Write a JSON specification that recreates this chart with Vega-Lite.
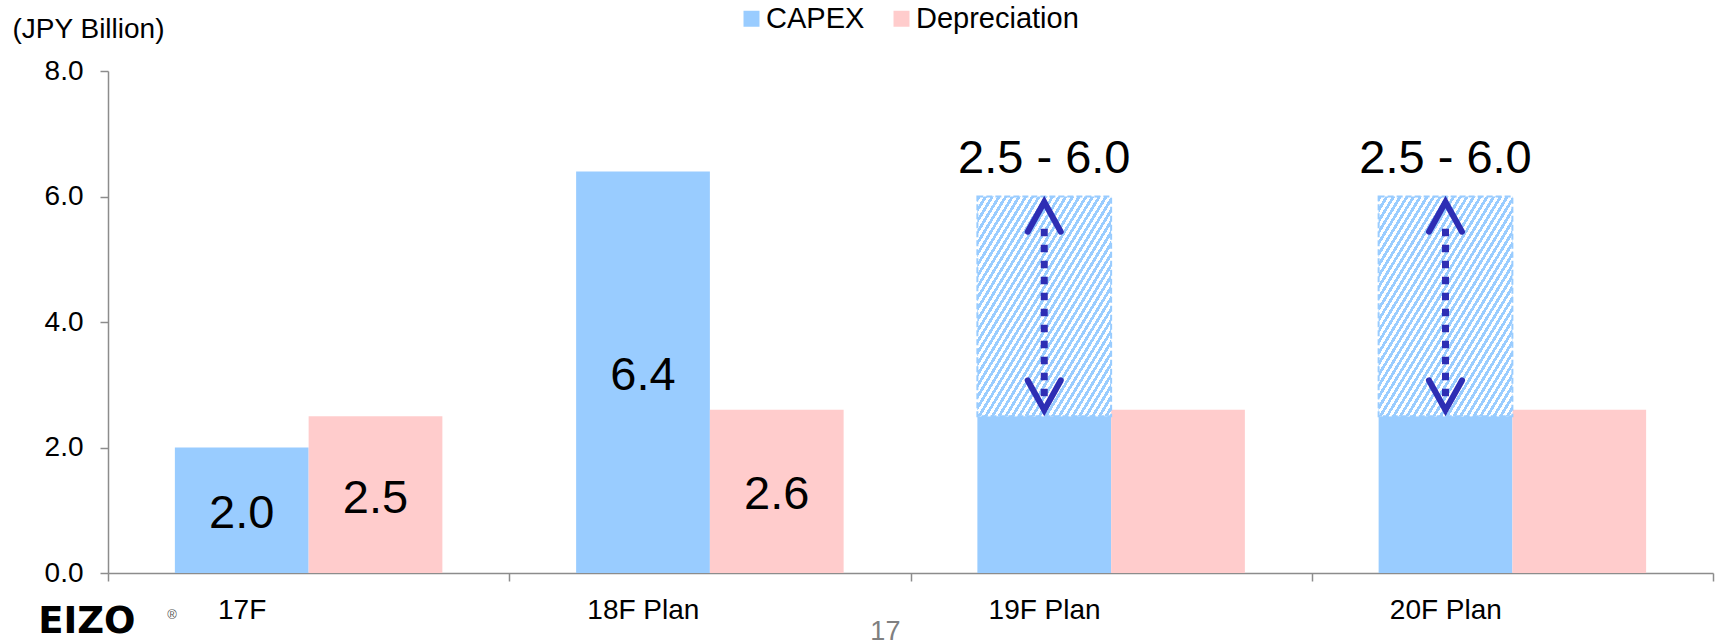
{
  "$schema": "https://vega.github.io/schema/vega-lite/v6.json",
  "width": 1605,
  "height": 502,
  "autosize": {"type": "none"},
  "padding": {"left": 108, "top": 71, "right": 12, "bottom": 68},
  "config": {"font": "Liberation Sans", "view": {"stroke": null}},
  "datasets": {
    "main": [
      {"cat": "17F", "series": "CAPEX", "value": 2.0},
      {"cat": "17F", "series": "Depreciation", "value": 2.5},
      {"cat": "18F Plan", "series": "CAPEX", "value": 6.4},
      {"cat": "18F Plan", "series": "Depreciation", "value": 2.6},
      {"cat": "19F Plan", "series": "CAPEX", "value": 2.5},
      {"cat": "19F Plan", "series": "Depreciation", "value": 2.6},
      {"cat": "20F Plan", "series": "CAPEX", "value": 2.5},
      {"cat": "20F Plan", "series": "Depreciation", "value": 2.6}
    ],
    "range": [
      {"cat": "19F Plan", "series": "CAPEX", "lo": 2.5, "hi": 6.0, "text": "2.5 - 6.0"},
      {"cat": "20F Plan", "series": "CAPEX", "lo": 2.5, "hi": 6.0, "text": "2.5 - 6.0"}
    ],
    "logo": [{"t": "EIZO"}],
    "reg": [{"t": "®"}],
    "page": [{"t": "17"}]
  },
  "resolve": {"scale": {"y": "independent"}},
  "layer": [
    {
      "data": {"name": "main"},
      "mark": {"type": "bar"},
      "encoding": {
        "x": {
          "field": "cat", "type": "nominal", "sort": null,
          "scale": {"domain": ["17F", "18F Plan", "19F Plan", "20F Plan"], "paddingInner": 0, "paddingOuter": 0},
          "axis": {
            "title": null, "tickBand": "extent", "labelOffset": -67, "labelFontSize": 28, "labelColor": "#000",
            "labelPadding": 15, "labelAngle": 0, "domainColor": "#8c8c8c", "domainWidth": 1.5,
            "tickColor": "#8c8c8c", "tickWidth": 1.5, "tickSize": 8, "grid": false
          }
        },
        "xOffset": {"field": "series", "type": "nominal", "scale": {"domain": ["CAPEX", "Depreciation"], "paddingInner": 0, "paddingOuter": 0.5}},
        "y": {
          "field": "value", "type": "quantitative",
          "scale": {"domain": [0, 8], "nice": false},
          "axis": {
            "title": "(JPY Billion)", "values": [0, 2, 4, 6, 8], "format": ".1f", "grid": false,
            "labelFontSize": 28, "labelColor": "#000", "labelPadding": 17, "tickSize": 8,
            "tickColor": "#8c8c8c", "tickWidth": 1.5, "domainColor": "#8c8c8c", "domainWidth": 1.5,
            "titleAngle": 0, "titleX": -96, "titleY": -34, "titleAlign": "left", "titleBaseline": "alphabetic",
            "titleFontSize": 28, "titleFontWeight": "normal", "titleColor": "#000"
          }
        },
        "color": {
          "field": "series", "type": "nominal",
          "scale": {"domain": ["CAPEX", "Depreciation"], "range": ["#99ccff", "#ffcccc"]},
          "legend": {
            "title": null, "orient": "none", "legendX": 629, "legendY": -67, "direction": "horizontal",
            "symbolType": "square", "symbolSize": 256, "symbolStrokeWidth": 0, "symbolOpacity": 1,
            "labelFontSize": 29, "labelColor": "#000", "labelOffset": 0, "labelLimit": 400, "columnPadding": 22, "padding": 0
          }
        }
      }
    },
    {
      "data": {"name": "main"},
      "transform": [{"filter": {"field": "cat", "oneOf": ["17F", "18F Plan"]}}],
      "mark": {"type": "text", "fontSize": 47, "baseline": "middle", "dy": 4, "color": "#000"},
      "encoding": {
        "x": {"field": "cat", "type": "nominal", "sort": null},
        "xOffset": {"field": "series", "type": "nominal"},
        "y": {"field": "value", "type": "quantitative", "scale": {"domain": [0, 16], "nice": false}, "axis": null},
        "text": {"field": "value", "type": "quantitative", "format": ".1f"}
      }
    },
    {
      "data": {"name": "range"},
      "mark": {
        "type": "bar", "stroke": "#99ccff", "strokeWidth": 2, "strokeDash": [6, 3],
        "fill": {
          "gradient": "linear", "x1": 0, "y1": 0, "x2": 1, "y2": 1,
          "stops": [
            {"offset": 0, "color": "#9cf"},
            {"offset": 0.0125, "color": "#9cf"}, {"offset": 0.0125, "color": "#fff"},
            {"offset": 0.025, "color": "#fff"}, {"offset": 0.025, "color": "#9cf"},
            {"offset": 0.0375, "color": "#9cf"}, {"offset": 0.0375, "color": "#fff"},
            {"offset": 0.05, "color": "#fff"}, {"offset": 0.05, "color": "#9cf"},
            {"offset": 0.0625, "color": "#9cf"}, {"offset": 0.0625, "color": "#fff"},
            {"offset": 0.075, "color": "#fff"}, {"offset": 0.075, "color": "#9cf"},
            {"offset": 0.0875, "color": "#9cf"}, {"offset": 0.0875, "color": "#fff"},
            {"offset": 0.1, "color": "#fff"}, {"offset": 0.1, "color": "#9cf"},
            {"offset": 0.1125, "color": "#9cf"}, {"offset": 0.1125, "color": "#fff"},
            {"offset": 0.125, "color": "#fff"}, {"offset": 0.125, "color": "#9cf"},
            {"offset": 0.1375, "color": "#9cf"}, {"offset": 0.1375, "color": "#fff"},
            {"offset": 0.15, "color": "#fff"}, {"offset": 0.15, "color": "#9cf"},
            {"offset": 0.1625, "color": "#9cf"}, {"offset": 0.1625, "color": "#fff"},
            {"offset": 0.175, "color": "#fff"}, {"offset": 0.175, "color": "#9cf"},
            {"offset": 0.1875, "color": "#9cf"}, {"offset": 0.1875, "color": "#fff"},
            {"offset": 0.2, "color": "#fff"}, {"offset": 0.2, "color": "#9cf"},
            {"offset": 0.2125, "color": "#9cf"}, {"offset": 0.2125, "color": "#fff"},
            {"offset": 0.225, "color": "#fff"}, {"offset": 0.225, "color": "#9cf"},
            {"offset": 0.2375, "color": "#9cf"}, {"offset": 0.2375, "color": "#fff"},
            {"offset": 0.25, "color": "#fff"}, {"offset": 0.25, "color": "#9cf"},
            {"offset": 0.2625, "color": "#9cf"}, {"offset": 0.2625, "color": "#fff"},
            {"offset": 0.275, "color": "#fff"}, {"offset": 0.275, "color": "#9cf"},
            {"offset": 0.2875, "color": "#9cf"}, {"offset": 0.2875, "color": "#fff"},
            {"offset": 0.3, "color": "#fff"}, {"offset": 0.3, "color": "#9cf"},
            {"offset": 0.3125, "color": "#9cf"}, {"offset": 0.3125, "color": "#fff"},
            {"offset": 0.325, "color": "#fff"}, {"offset": 0.325, "color": "#9cf"},
            {"offset": 0.3375, "color": "#9cf"}, {"offset": 0.3375, "color": "#fff"},
            {"offset": 0.35, "color": "#fff"}, {"offset": 0.35, "color": "#9cf"},
            {"offset": 0.3625, "color": "#9cf"}, {"offset": 0.3625, "color": "#fff"},
            {"offset": 0.375, "color": "#fff"}, {"offset": 0.375, "color": "#9cf"},
            {"offset": 0.3875, "color": "#9cf"}, {"offset": 0.3875, "color": "#fff"},
            {"offset": 0.4, "color": "#fff"}, {"offset": 0.4, "color": "#9cf"},
            {"offset": 0.4125, "color": "#9cf"}, {"offset": 0.4125, "color": "#fff"},
            {"offset": 0.425, "color": "#fff"}, {"offset": 0.425, "color": "#9cf"},
            {"offset": 0.4375, "color": "#9cf"}, {"offset": 0.4375, "color": "#fff"},
            {"offset": 0.45, "color": "#fff"}, {"offset": 0.45, "color": "#9cf"},
            {"offset": 0.4625, "color": "#9cf"}, {"offset": 0.4625, "color": "#fff"},
            {"offset": 0.475, "color": "#fff"}, {"offset": 0.475, "color": "#9cf"},
            {"offset": 0.4875, "color": "#9cf"}, {"offset": 0.4875, "color": "#fff"},
            {"offset": 0.5, "color": "#fff"}, {"offset": 0.5, "color": "#9cf"},
            {"offset": 0.5125, "color": "#9cf"}, {"offset": 0.5125, "color": "#fff"},
            {"offset": 0.525, "color": "#fff"}, {"offset": 0.525, "color": "#9cf"},
            {"offset": 0.5375, "color": "#9cf"}, {"offset": 0.5375, "color": "#fff"},
            {"offset": 0.55, "color": "#fff"}, {"offset": 0.55, "color": "#9cf"},
            {"offset": 0.5625, "color": "#9cf"}, {"offset": 0.5625, "color": "#fff"},
            {"offset": 0.575, "color": "#fff"}, {"offset": 0.575, "color": "#9cf"},
            {"offset": 0.5875, "color": "#9cf"}, {"offset": 0.5875, "color": "#fff"},
            {"offset": 0.6, "color": "#fff"}, {"offset": 0.6, "color": "#9cf"},
            {"offset": 0.6125, "color": "#9cf"}, {"offset": 0.6125, "color": "#fff"},
            {"offset": 0.625, "color": "#fff"}, {"offset": 0.625, "color": "#9cf"},
            {"offset": 0.6375, "color": "#9cf"}, {"offset": 0.6375, "color": "#fff"},
            {"offset": 0.65, "color": "#fff"}, {"offset": 0.65, "color": "#9cf"},
            {"offset": 0.6625, "color": "#9cf"}, {"offset": 0.6625, "color": "#fff"},
            {"offset": 0.675, "color": "#fff"}, {"offset": 0.675, "color": "#9cf"},
            {"offset": 0.6875, "color": "#9cf"}, {"offset": 0.6875, "color": "#fff"},
            {"offset": 0.7, "color": "#fff"}, {"offset": 0.7, "color": "#9cf"},
            {"offset": 0.7125, "color": "#9cf"}, {"offset": 0.7125, "color": "#fff"},
            {"offset": 0.725, "color": "#fff"}, {"offset": 0.725, "color": "#9cf"},
            {"offset": 0.7375, "color": "#9cf"}, {"offset": 0.7375, "color": "#fff"},
            {"offset": 0.75, "color": "#fff"}, {"offset": 0.75, "color": "#9cf"},
            {"offset": 0.7625, "color": "#9cf"}, {"offset": 0.7625, "color": "#fff"},
            {"offset": 0.775, "color": "#fff"}, {"offset": 0.775, "color": "#9cf"},
            {"offset": 0.7875, "color": "#9cf"}, {"offset": 0.7875, "color": "#fff"},
            {"offset": 0.8, "color": "#fff"}, {"offset": 0.8, "color": "#9cf"},
            {"offset": 0.8125, "color": "#9cf"}, {"offset": 0.8125, "color": "#fff"},
            {"offset": 0.825, "color": "#fff"}, {"offset": 0.825, "color": "#9cf"},
            {"offset": 0.8375, "color": "#9cf"}, {"offset": 0.8375, "color": "#fff"},
            {"offset": 0.85, "color": "#fff"}, {"offset": 0.85, "color": "#9cf"},
            {"offset": 0.8625, "color": "#9cf"}, {"offset": 0.8625, "color": "#fff"},
            {"offset": 0.875, "color": "#fff"}, {"offset": 0.875, "color": "#9cf"},
            {"offset": 0.8875, "color": "#9cf"}, {"offset": 0.8875, "color": "#fff"},
            {"offset": 0.9, "color": "#fff"}, {"offset": 0.9, "color": "#9cf"},
            {"offset": 0.9125, "color": "#9cf"}, {"offset": 0.9125, "color": "#fff"},
            {"offset": 0.925, "color": "#fff"}, {"offset": 0.925, "color": "#9cf"},
            {"offset": 0.9375, "color": "#9cf"}, {"offset": 0.9375, "color": "#fff"},
            {"offset": 0.95, "color": "#fff"}, {"offset": 0.95, "color": "#9cf"},
            {"offset": 0.9625, "color": "#9cf"}, {"offset": 0.9625, "color": "#fff"},
            {"offset": 0.975, "color": "#fff"}, {"offset": 0.975, "color": "#9cf"},
            {"offset": 0.9875, "color": "#9cf"}, {"offset": 0.9875, "color": "#fff"},
            {"offset": 1, "color": "#fff"}
          ]
        }
      },
      "encoding": {
        "x": {"field": "cat", "type": "nominal", "sort": null},
        "xOffset": {"field": "series", "type": "nominal"},
        "y": {"field": "lo", "type": "quantitative", "scale": {"domain": [0, 8], "nice": false}, "axis": null},
        "y2": {"field": "hi"}
      }
    },
    {
      "data": {"name": "range"},
      "mark": {"type": "rule", "color": "#2e2eb4", "strokeWidth": 7, "strokeDash": [7.5, 8.5], "yOffset": -20, "y2Offset": 30},
      "encoding": {
        "x": {"field": "cat", "type": "nominal", "sort": null},
        "xOffset": {"field": "series", "type": "nominal"},
        "y": {"field": "lo", "type": "quantitative", "scale": {"domain": [0, 8], "nice": false}, "axis": null},
        "y2": {"field": "hi"}
      }
    },
    {
      "data": {"name": "range"},
      "mark": {"type": "point", "shape": "M-1,1.8L0,0L1,1.8", "filled": false, "size": 1089, "strokeWidth": 6, "color": "#2e2eb4", "opacity": 1, "strokeCap": "round", "yOffset": 5.5},
      "encoding": {
        "x": {"field": "cat", "type": "nominal", "sort": null},
        "xOffset": {"field": "series", "type": "nominal"},
        "y": {"field": "hi", "type": "quantitative", "scale": {"domain": [0, 8], "nice": false}, "axis": null}
      }
    },
    {
      "data": {"name": "range"},
      "mark": {"type": "point", "shape": "M-1,-1.8L0,0L1,-1.8", "filled": false, "size": 1089, "strokeWidth": 6, "color": "#2e2eb4", "opacity": 1, "strokeCap": "round", "yOffset": -6},
      "encoding": {
        "x": {"field": "cat", "type": "nominal", "sort": null},
        "xOffset": {"field": "series", "type": "nominal"},
        "y": {"field": "lo", "type": "quantitative", "scale": {"domain": [0, 8], "nice": false}, "axis": null}
      }
    },
    {
      "data": {"name": "range"},
      "mark": {"type": "text", "fontSize": 47, "baseline": "alphabetic", "dy": -23.5, "color": "#000"},
      "encoding": {
        "x": {"field": "cat", "type": "nominal", "sort": null},
        "xOffset": {"field": "series", "type": "nominal"},
        "y": {"field": "hi", "type": "quantitative", "scale": {"domain": [0, 8], "nice": false}, "axis": null},
        "text": {"field": "text", "type": "nominal"}
      }
    },
    {
      "data": {"name": "logo"},
      "mark": {"type": "text", "fontSize": 37, "fontWeight": 900, "font": "DejaVu Sans", "align": "left", "baseline": "alphabetic", "dx": -270.5, "color": "#000"},
      "encoding": {
        "x": {"datum": "17F", "type": "nominal"},
        "y": {"datum": -0.956, "type": "quantitative", "scale": {"domain": [0, 8], "nice": false}, "axis": null},
        "text": {"field": "t", "type": "nominal"}
      }
    },
    {
      "data": {"name": "reg"},
      "mark": {"type": "text", "fontSize": 13, "align": "left", "baseline": "alphabetic", "dx": -141.5, "color": "#555"},
      "encoding": {
        "x": {"datum": "17F", "type": "nominal"},
        "y": {"datum": -0.733, "type": "quantitative", "scale": {"domain": [0, 8], "nice": false}, "axis": null},
        "text": {"field": "t", "type": "nominal"}
      }
    },
    {
      "data": {"name": "page"},
      "mark": {"type": "text", "fontSize": 27, "baseline": "alphabetic", "dx": 175.5, "color": "#808080"},
      "encoding": {
        "x": {"datum": "18F Plan", "type": "nominal"},
        "y": {"datum": -1.06, "type": "quantitative", "scale": {"domain": [0, 8], "nice": false}, "axis": null},
        "text": {"field": "t", "type": "nominal"}
      }
    }
  ]
}
